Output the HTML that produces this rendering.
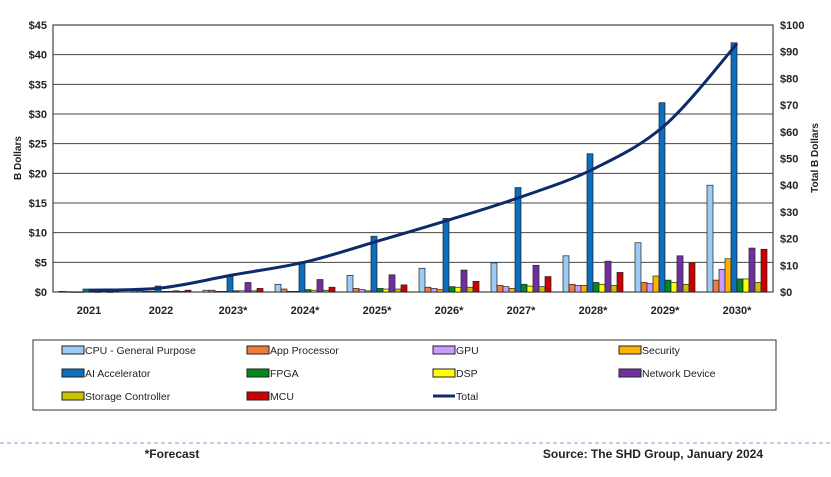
<!DOCTYPE html>
<html><head><meta charset="utf-8"><style>
body{margin:0;background:#fff;font-family:"Liberation Sans",sans-serif;}
svg text{font-family:"Liberation Sans",sans-serif;font-weight:bold;fill:#222;}
</style></head><body>
<svg id="c" width="831" height="472"></svg>
<script>
const years=["2021","2022","2023*","2024*","2025*","2026*","2027*","2028*","2029*","2030*"];
const seriesNames=["CPU - General Purpose","App Processor","GPU","Security","AI Accelerator","FPGA","DSP","Network Device","Storage Controller","MCU"];
const seriesColors=["#9ccbf5","#ef7d38","#cc99ff","#ffb300","#0a6fbf","#008a1e","#ffff00","#7030a0","#c8c400","#cc0000"];
const cpu=[0.1,0.2,0.3,1.3,2.8,4.0,4.9,6.1,8.3,18.0];
const app=[0.05,0.2,0.3,0.5,0.6,0.8,1.1,1.3,1.6,2.0];
const gpu=[0.02,0.1,0.1,0.1,0.4,0.6,0.9,1.1,1.4,3.8];
const security=[0.02,0.1,0.1,0.1,0.2,0.4,0.6,1.1,2.7,5.6];
const aiAccel=[0.5,1.0,2.6,5.1,9.4,12.4,17.6,23.3,31.9,42.0];
const fpga=[0.05,0.1,0.2,0.4,0.6,0.9,1.3,1.6,2.0,2.2];
const dsp=[0.02,0.1,0.2,0.3,0.5,0.8,1.0,1.3,1.6,2.2];
const network=[0.1,0.2,1.6,2.1,2.9,3.7,4.5,5.2,6.1,7.4];
const storage=[0.02,0.1,0.2,0.3,0.5,0.8,0.9,1.1,1.3,1.6];
const mcu=[0.1,0.3,0.6,0.8,1.2,1.8,2.6,3.3,4.9,7.2];
const total=[0.7,1.5,6.4,11.2,19,27,35.6,46,62.5,93];
const leftTicks=[0,5,10,15,20,25,30,35,40,45];
const rightTicks=[0,10,20,30,40,50,60,70,80,90,100];

const NS="http://www.w3.org/2000/svg";
const svg=document.getElementById('c');
function mk(tag,attrs,parent){const e=document.createElementNS(NS,tag);for(const k in attrs)e.setAttribute(k,attrs[k]);(parent||svg).appendChild(e);return e;}
const X0=53,X1=773,Y0=292,Y1=25;
const yL=v=>Y0-(v/45)*(Y0-Y1);
const yR=v=>Y0-(v/100)*(Y0-Y1);
const gw=(X1-X0)/years.length;
const xBar=(g,s)=>X0+g*gw+6+s*6;
const xCenter=g=>X0+g*gw+gw/2;
const data=[cpu,app,gpu,security,aiAccel,fpga,dsp,network,storage,mcu];

leftTicks.forEach(t=>{
  const y=yL(t);
  const l=mk('line',{x1:X0,x2:X1,y1:y,y2:y,stroke:'#444','stroke-width':1});
  
  
  const tx=mk('text',{x:X0-6,y:y+4,'text-anchor':'end','font-size':11});
  tx.textContent='$'+t;
  
  
});
rightTicks.forEach(t=>{
  const tx=mk('text',{x:X1+7,y:yR(t)+4,'font-size':11});
  tx.textContent='$'+t;
  
  
});
const fr=mk('rect',{x:X0,y:Y1,width:X1-X0,height:Y0-Y1,fill:'none',stroke:'#444','stroke-width':1.2});



years.forEach((yr,g)=>{
  const tx=mk('text',{x:xCenter(g),y:314,'text-anchor':'middle','font-size':11});
  tx.textContent=yr;
  
  
  data.forEach((arr,s)=>{
    const y=yL(arr[g]);
    const r=mk('rect',{x:xBar(g,s),y:y,width:6,height:Math.max(Y0-y,0.5),fill:seriesColors[s],stroke:'#222','stroke-width':0.7});
    
    
  });
});
// total line (smooth)
const pts=total.map((v,g)=>[xCenter(g),yR(v)]);
let d='M'+pts[0][0]+','+pts[0][1];
for(let i=0;i<pts.length-1;i++){
  const p0=pts[Math.max(i-1,0)],p1=pts[i],p2=pts[i+1],p3=pts[Math.min(i+2,pts.length-1)];
  const c1=[p1[0]+(p2[0]-p0[0])/6,p1[1]+(p2[1]-p0[1])/6];
  const c2=[p2[0]-(p3[0]-p1[0])/6,p2[1]-(p3[1]-p1[1])/6];
  d+=` C${c1[0]},${c1[1]} ${c2[0]},${c2[1]} ${p2[0]},${p2[1]}`;
}
const ln=mk('path',{d:d,fill:'none',stroke:'#0d2b6b','stroke-width':3});



const yl=mk('text',{x:0,y:0,'font-size':10,'text-anchor':'middle',transform:'translate(21,158) rotate(-90)'});
yl.textContent='B Dollars';


const yr2=mk('text',{x:0,y:0,'font-size':10,'text-anchor':'middle',transform:'translate(818,158) rotate(-90)'});
yr2.textContent='Total B Dollars';



// legend
const lb=mk('rect',{x:33,y:340,width:743,height:70,fill:'#fff',stroke:'#333','stroke-width':1});


const colX=[62,247,433,619],rowY=[350,373,396];
const legendItems=seriesNames.concat(["Total"]);
legendItems.forEach((n,i)=>{
  const cx=colX[i%4],cy=rowY[Math.floor(i/4)];
  if(n==="Total"){
    const l=mk('line',{x1:cx,x2:cx+22,y1:cy,y2:cy,stroke:'#0d2b6b','stroke-width':3});
    
    
  } else {
    const r=mk('rect',{x:cx,y:cy-4,width:22,height:8,fill:seriesColors[i],stroke:'#222','stroke-width':1});
    
    
  }
  const t=mk('text',{x:cx+23,y:cy+4,'font-size':10.5,'font-weight':'normal'});
  t.setAttribute('style','font-weight:normal');
  t.textContent=n;
  
  
});
const dl=mk('line',{x1:0,x2:831,y1:443,y2:443,stroke:'#7aa6d8','stroke-width':1,'stroke-dasharray':'4,3'});


const f1=mk('text',{x:172,y:458,'text-anchor':'middle','font-size':12});
f1.textContent='*Forecast';


const f2=mk('text',{x:763,y:458,'text-anchor':'end','font-size':12});
f2.textContent='Source: The SHD Group, January 2024';


</script>
</body></html>
